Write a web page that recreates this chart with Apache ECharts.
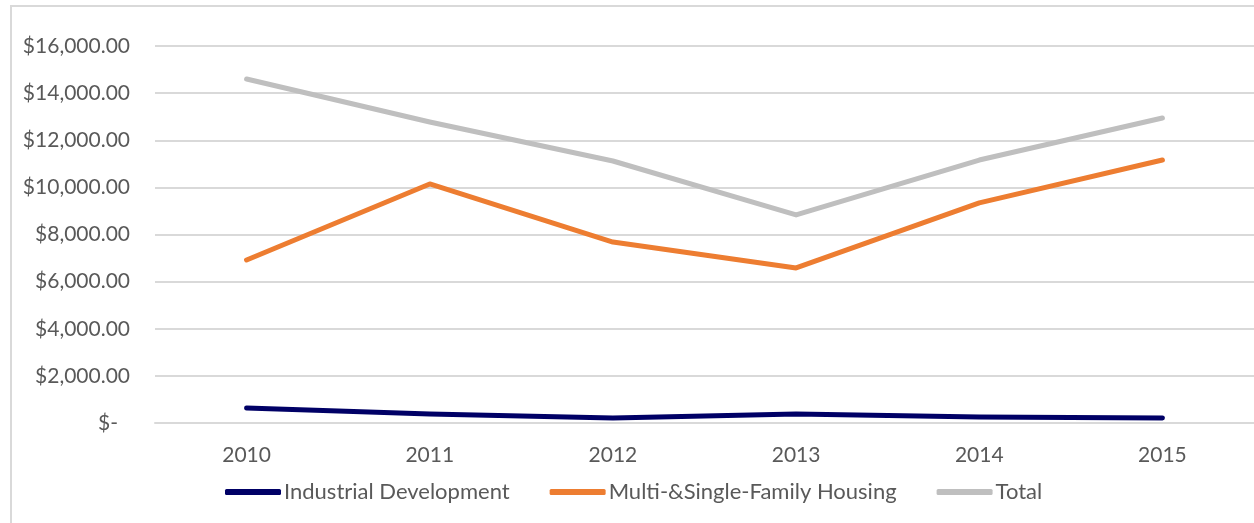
<!DOCTYPE html>
<html>
<head>
<meta charset="utf-8">
<script src="https://cdn.jsdelivr.net/npm/echarts@6/dist/echarts.min.js"></script>
<style>
  html, body { margin: 0; padding: 0; background: #fff; }
  #lineChart { width: 1254px; height: 523px; }
</style>
</head>
<body>
<div id="lineChart"></div>
<script>
const years = ["2010", "2011", "2012", "2013", "2014", "2015"];
const industrial = [640, 380, 210, 380, 250, 210];
const housing = [6920, 10145, 7680, 6580, 9340, 11160];
const total = [14600, 12775, 11120, 8830, 11160, 12945];

const chart = echarts.init(document.getElementById("lineChart"));

function money(v) {
  if (v === 0) return "{z|$-}";
  return "$" + v.toLocaleString("en-US", { minimumFractionDigits: 2 });
}

function line(name, data, color) {
  return {
    name: name,
    type: "line",
    data: data,
    showSymbol: false,
    symbol: "none",
    lineStyle: { color: color, width: 5, cap: "round", join: "round" },
    itemStyle: { color: color },
  };
}

const options = {
  animation: false,
  textStyle: { fontFamily: "Lato", color: "#595959" },
  graphic: [
    {
      type: "polyline",
      shape: { points: [[11, 523], [11, 6], [1254, 6]] },
      style: { stroke: "#d9d9d9", lineWidth: 2, fill: null },
    },
  ],
  grid: { left: 155, right: -6, top: 46, bottom: 100 },
  legend: {
    left: 220,
    top: 476,
    itemWidth: 56,
    itemHeight: 6,
    itemGap: 40,
    icon: "roundRect",
    textStyle: { fontSize: 22, color: "#595959", fontFamily: "Lato", padding: [0, 0, 0, -2] },
    data: ["Industrial Development", "Multi-&Single-Family Housing", "Total"],
  },
  xAxis: {
    type: "category",
    data: years,
    boundaryGap: true,
    axisLine: { lineStyle: { color: "#d9d9d9", width: 2 } },
    axisTick: { show: false },
    axisLabel: { fontSize: 21, color: "#595959", margin: 22 },
  },
  yAxis: {
    type: "value",
    min: 0,
    max: 16000,
    interval: 2000,
    axisLine: { show: false },
    axisTick: { show: false },
    splitLine: { lineStyle: { color: "#d9d9d9", width: 2 } },
    axisLabel: {
      fontSize: 21,
      color: "#595959",
      margin: 25,
      formatter: money,
      rich: { z: { fontSize: 21, color: "#595959", padding: [0, 12, 0, 0] } },
    },
  },
  series: [
    line("Industrial Development", industrial, "#000066"),
    line("Multi-&Single-Family Housing", housing, "#ED7D31"),
    line("Total", total, "#BFBFBF"),
  ],
};

chart.setOption(options);
</script>
</body>
</html>
